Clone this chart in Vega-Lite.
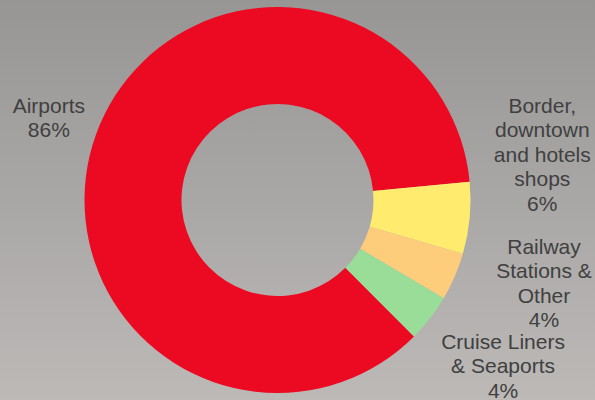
{
  "$schema": "https://vega.github.io/schema/vega-lite/v6.json",
  "width": 595,
  "height": 400,
  "autosize": "none",
  "padding": 0,
  "background": "#aaa8a7",
  "config": {"view": {"stroke": null}},
  "data": {
    "values": [
      {"segment": "Airports", "value": 86, "order": 1, "label": "Airports\n86%"},
      {"segment": "Border, downtown and hotels shops", "value": 6, "order": 2, "label": "Border,\ndowntown\nand hotels\nshops\n6%"},
      {"segment": "Railway Stations & Other", "value": 4, "order": 3, "label": "Railway\nStations &\nOther\n4%"},
      {"segment": "Cruise Liners & Seaports", "value": 4, "order": 4, "label": "Cruise Liners\n& Seaports\n4%"}
    ]
  },
  "layer": [
    {
      "data": {"values": [{"bg": 1}]},
      "mark": {
        "type": "rect",
        "fill": {
          "gradient": "linear", "x1": 0, "y1": 0, "x2": 0, "y2": 1,
          "stops": [{"offset": 0, "color": "#979695"}, {"offset": 1, "color": "#bcb9b7"}]
        }
      },
      "encoding": {
        "x": {"value": 0}, "x2": {"value": "width"},
        "y": {"value": 0}, "y2": {"value": "height"}
      }
    },
    {
      "mark": {"type": "arc", "radius": 193, "radius2": 96, "x": {"expr": "width/2 - 20"}},
      "encoding": {
        "theta": {"field": "value", "type": "quantitative", "stack": true,
                  "scale": {"domain": [0, 100], "range": [2.356, 8.639]}},
        "order": {"field": "order", "type": "quantitative"},
        "color": {
          "field": "segment", "type": "nominal", "legend": null,
          "scale": {
            "domain": ["Airports", "Border, downtown and hotels shops", "Railway Stations & Other", "Cruise Liners & Seaports"],
            "range": ["#ec0922", "#ffec6e", "#fecd7c", "#99dd99"]
          }
        }
      }
    },
    {
      "transform": [
        {"stack": "value", "groupby": [], "sort": [{"field": "order"}], "as": ["v0", "v1"]},
        {"calculate": "(datum.v0 + datum.v1) / 2", "as": "mid"},
        {"filter": "datum.segment == 'Airports'"}
      ],
      "mark": {"type": "text", "radius": 243, "x": {"expr": "width/2 - 20"}, "dy": -11,
               "lineBreak": "\n", "lineHeight": 24.5, "font": "Liberation Sans", "fontSize": 21,
               "color": "#404040", "align": "center", "baseline": "middle"},
      "encoding": {
        "theta": {"field": "mid", "type": "quantitative", "stack": null},
        "text": {"field": "label"}
      }
    },
    {
      "transform": [
        {"stack": "value", "groupby": [], "sort": [{"field": "order"}], "as": ["v0", "v1"]},
        {"calculate": "(datum.v0 + datum.v1) / 2", "as": "mid"},
        {"filter": "datum.segment == 'Border, downtown and hotels shops'"}
      ],
      "mark": {"type": "text", "radius": 274, "x": {"expr": "width/2 - 20"}, "dy": -119, "dx": -8,
               "lineBreak": "\n", "lineHeight": 24.5, "font": "Liberation Sans", "fontSize": 21,
               "color": "#404040", "align": "center", "baseline": "middle"},
      "encoding": {
        "theta": {"field": "mid", "type": "quantitative", "stack": null},
        "text": {"field": "label"}
      }
    },
    {
      "transform": [
        {"stack": "value", "groupby": [], "sort": [{"field": "order"}], "as": ["v0", "v1"]},
        {"calculate": "(datum.v0 + datum.v1) / 2", "as": "mid"},
        {"filter": "datum.segment == 'Railway Stations & Other'"}
      ],
      "mark": {"type": "text", "radius": 274, "x": {"expr": "width/2 - 20"}, "dy": -61, "dx": 15,
               "lineBreak": "\n", "lineHeight": 24.5, "font": "Liberation Sans", "fontSize": 21,
               "color": "#404040", "align": "center", "baseline": "middle"},
      "encoding": {
        "theta": {"field": "mid", "type": "quantitative", "stack": null},
        "text": {"field": "label"}
      }
    },
    {
      "transform": [
        {"stack": "value", "groupby": [], "sort": [{"field": "order"}], "as": ["v0", "v1"]},
        {"calculate": "(datum.v0 + datum.v1) / 2", "as": "mid"},
        {"filter": "datum.segment == 'Cruise Liners & Seaports'"}
      ],
      "mark": {"type": "text", "radius": 274, "x": {"expr": "width/2 - 20"}, "dy": -25, "dx": 9,
               "lineBreak": "\n", "lineHeight": 24.5, "font": "Liberation Sans", "fontSize": 21,
               "color": "#404040", "align": "center", "baseline": "middle"},
      "encoding": {
        "theta": {"field": "mid", "type": "quantitative", "stack": null},
        "text": {"field": "label"}
      }
    }
  ]
}
